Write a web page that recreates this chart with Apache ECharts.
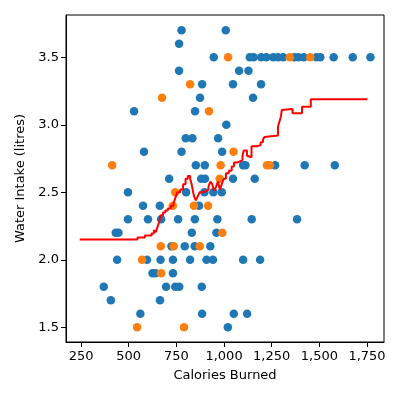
<!DOCTYPE html>
<html>
<head>
<meta charset="utf-8">
<script src="https://cdn.jsdelivr.net/npm/echarts@6/dist/echarts.min.js"></script>
<style>
    html, body { margin: 0; padding: 0; background: #fff; }
    #chart { width: 400px; height: 400px; }
</style>
</head>
<body>
<div id="chart"></div>
<script>
// points
var blueX = [777, 1009, 764,
    946, 1135, 1155, 1195, 1222, 1258, 1283, 1310, 1368, 1390, 1418, 1485, 1505, 1575, 1675, 1768,
    764, 1079, 1128, 885, 1047, 1194, 874, 1152, 528, 848, 1012,
    799, 834, 969, 580, 777, 990,
    852, 899, 1100, 1112, 1268, 1423, 1581,
    712, 880, 900, 1047, 1161,
    496, 801, 897, 944, 988,
    575, 663, 869,
    496, 601, 670, 759, 847, 965, 1145, 1383,
    432, 446, 831, 960,
    724, 794, 846, 928,
    439, 596, 667, 732, 822, 908, 942, 1100, 1189,
    625, 640, 732,
    369, 696, 744, 765, 883,
    406, 664,
    561, 885, 1051, 1121,
    1020];
var blueY = [3.7, 3.7, 3.6,
    3.5, 3.5, 3.5, 3.5, 3.5, 3.5, 3.5, 3.5, 3.5, 3.5, 3.5, 3.5, 3.5, 3.5, 3.5, 3.5,
    3.4, 3.4, 3.4, 3.3, 3.3, 3.3, 3.2, 3.2, 3.1, 3.1, 3.0,
    2.9, 2.9, 2.9, 2.8, 2.8, 2.8,
    2.7, 2.7, 2.7, 2.7, 2.7, 2.7, 2.7,
    2.6, 2.6, 2.6, 2.6, 2.6,
    2.5, 2.5, 2.5, 2.5, 2.5,
    2.4, 2.4, 2.4,
    2.3, 2.3, 2.3, 2.3, 2.3, 2.3, 2.3, 2.3,
    2.2, 2.2, 2.2, 2.2,
    2.1, 2.1, 2.1, 2.1,
    2.0, 2.0, 2.0, 2.0, 2.0, 2.0, 2.0, 2.0, 2.0,
    1.9, 1.9, 1.9,
    1.8, 1.8, 1.8, 1.8, 1.8,
    1.7, 1.7,
    1.6, 1.6, 1.6, 1.6,
    1.5];

var orangeX = [1021, 1345, 1452, 822, 675, 921, 1050, 413, 982, 1225, 1240, 977, 744,
    731, 842, 916, 991, 668, 736, 873, 570, 670, 544, 790];
var orangeY = [3.5, 3.5, 3.5, 3.3, 3.2, 3.1, 2.8, 2.7, 2.7, 2.7, 2.7, 2.6, 2.5,
    2.4, 2.4, 2.4, 2.2, 2.1, 2.1, 2.1, 2.0, 1.9, 1.5, 1.5];

// red step line
var lineX = [243, 546, 585, 620, 632, 642, 650, 660, 668, 680, 692, 705, 720, 735, 745, 755,
    770, 785, 798, 810, 822, 830, 838, 845, 852, 862, 872, 890, 905, 918, 928, 938, 948,
    958, 968, 978, 988, 998, 1010, 1025, 1040, 1052, 1068, 1085, 1097, 1103, 1120, 1128,
    1144, 1172, 1192, 1204, 1212, 1220, 1283, 1290, 1298, 1303, 1308, 1359, 1409, 1455, 1752];
var lineY = [2.15, 2.165, 2.18, 2.195, 2.22, 2.205, 2.24, 2.28, 2.33, 2.35, 2.365, 2.38, 2.40, 2.42, 2.46, 2.50,
    2.52, 2.56, 2.60, 2.62, 2.60, 2.56, 2.50, 2.46, 2.44, 2.47, 2.50, 2.51, 2.52, 2.54, 2.58, 2.56, 2.51,
    2.54, 2.58, 2.52, 2.56, 2.60, 2.64, 2.66, 2.69, 2.72, 2.73, 2.74, 2.77, 2.81, 2.77, 2.76,
    2.84, 2.85, 2.87, 2.89, 2.91, 2.92, 2.985, 3.02, 3.06, 3.11, 3.117, 3.085, 3.134, 3.189, 3.189];

var xTicks = [250, 500, 750, 1000, 1250, 1500, 1750];
var yTicks = [1.5, 2.0, 2.5, 3.0, 3.5];

function pairs(xs, ys) {
    return xs.map(function (x, i) { return [x, ys[i]]; });
}

var font = 'DejaVu Sans';
var myChart = echarts.init(document.getElementById('chart'));
var option = {
    animation: false,
    textStyle: { fontFamily: font },
    grid: {
        left: 66, right: 16, top: 15, bottom: 58,
        show: true, borderColor: '#000', borderWidth: 1, backgroundColor: 'transparent'
    },
    xAxis: {
        type: 'value',
        min: 171, max: 1839,
        name: 'Calories Burned',
        nameLocation: 'middle',
        nameGap: 27,
        nameTextStyle: { color: '#000', fontSize: 13, fontFamily: font },
        axisLine: { lineStyle: { color: '#000', width: 1 } },
        axisTick: { customValues: xTicks, length: 5, lineStyle: { color: '#000' } },
        axisLabel: { customValues: xTicks, color: '#000', fontSize: 13, margin: 8, fontFamily: font },
        splitLine: { show: false }
    },
    yAxis: {
        type: 'value',
        min: 1.391, max: 3.813,
        name: 'Water Intake (litres)',
        nameLocation: 'middle',
        nameGap: 36,
        nameTextStyle: { color: '#000', fontSize: 13, fontFamily: font },
        axisLine: { show: true, lineStyle: { color: '#000', width: 1 } },
        axisTick: { show: true, customValues: yTicks, length: 5, lineStyle: { color: '#000' } },
        axisLabel: {
            customValues: yTicks, color: '#000', fontSize: 13, margin: 7, fontFamily: font,
            formatter: function (v) { return v.toFixed(1); }
        },
        splitLine: { show: false }
    },
    series: [
        {
            type: 'scatter',
            data: pairs(blueX, blueY),
            symbolSize: 8.5,
            itemStyle: { color: '#1f77b4', opacity: 1 }
        },
        {
            type: 'scatter',
            data: pairs(orangeX, orangeY),
            symbolSize: 8.5,
            itemStyle: { color: '#ff7f0e', opacity: 1 }
        },
        {
            type: 'line',
            data: pairs(lineX, lineY),
            step: 'end',
            showSymbol: false,
            symbol: 'none',
            lineStyle: { color: '#ff0000', width: 2 }
        }
    ]
};
myChart.setOption(option);
</script>
</body>
</html>
